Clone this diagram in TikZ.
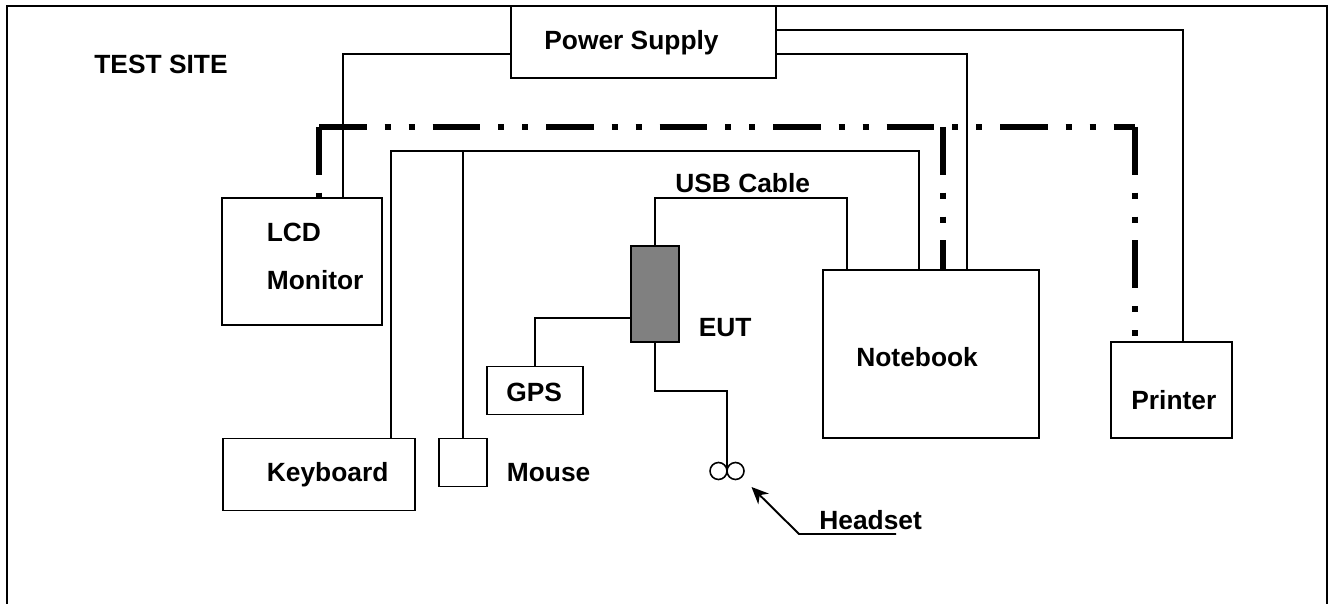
\documentclass[tikz,border=0pt]{standalone}
\usepackage{fontspec}
\setmainfont{Liberation Sans}
\usetikzlibrary{arrows.meta}
\tikzset{
  box/.style 2 args={draw, line width=1.1pt, outer sep=0pt, minimum width=#1*0.02cm, minimum height=#2*0.02cm},
  lbl/.style={anchor=base west, inner sep=0pt, font=\fontsize{15}{18}\selectfont\bfseries},
  wire/.style={line width=1.1pt, line join=miter},
  bus/.style={line width=3.7pt, dash pattern=on 27.2pt off 10.2pt on 3.4pt off 10.2pt on 3.4pt off 10.2pt}
}

\begin{document}
\begin{tikzpicture}[x=0.02cm, y=-0.02cm]
  \useasboundingbox (0, 0) rectangle (1333, 604);
  % site frame, open at the bottom
  \coordinate (F1) at (7, 604);
  \coordinate (F2) at (7, 6);
  \coordinate (F3) at (1327, 6);
  \coordinate (F4) at (1327, 604);
  \draw[wire] (F1) -- (F2) -- (F3) -- (F4);
  \coordinate (F5) at (415, 6);
  \coordinate (F6) at (441, 6);
  \draw[line width=1.5pt] (F5) -- (F6);

  % boxes
  \node[box={265}{72}, fill=white] (PS) at (643.5, 42) {};
  \node[box={160}{127}] (LCD) at (302, 261.5) {};
  \node[box={216}{168}] (NB) at (931, 354) {};
  \node[box={121}{96}] (PR) at (1171.5, 390) {};
  \node[box={192}{72}] (KB) at (319, 474.5) {};
  \node[box={48}{48}] (MS) at (463, 462.5) {};
  \node[box={96}{48}] (GPS) at (535, 390.5) {};
  \node[box={48}{96}, line width=1.7pt, fill={rgb,255:red,128;green,128;blue,128}] (EUT) at (655, 294) {};
  \node[draw, circle, line width=0.9pt, minimum size=0.34cm, inner sep=0pt, outer sep=0pt] (H1) at (718.5, 471) {};
  \node[draw, circle, line width=0.9pt, minimum size=0.34cm, inner sep=0pt, outer sep=0pt] (H2) at (735.5, 471) {};

  % texts
  \node[lbl] (tSite) at (94, 73.5) {TEST SITE};
  \node[lbl] (tPS) at (544, 50) {Power Supply};
  \node[lbl] (tLCD) at (266.5, 241.5) {LCD};
  \node[lbl] (tMon) at (266.5, 290) {Monitor};
  \node[lbl] (tUSB) at (675, 193) {USB Cable};
  \node[lbl] (tEUT) at (698.5, 336.5) {EUT};
  \node[lbl] (tNB) at (856, 366.5) {Notebook};
  \node[lbl] (tGPS) at (506, 401.5) {GPS};
  \node[lbl] (tPR) at (1131, 410) {Printer};
  \node[lbl] (tKB) at (266.5, 481.5) {Keyboard};
  \node[lbl] (tMS) at (506.5, 481.5) {Mouse};
  \node[lbl] (tHS) at (819, 530) {Headset};

  % power lines
  \coordinate (P1) at (511, 54);
  \coordinate (P2) at (776, 54);
  \coordinate (P3) at (776, 30);
  \coordinate (A1) at (343, 54);
  \coordinate (A2) at (967, 54);
  \coordinate (A3) at (1183, 30);
  \draw[wire] (P1) -- (A1) -- (A1 |- LCD.north);
  \draw[wire] (P2) -- (A2) -- (A2 |- NB.north);
  \draw[wire] (P3) -- (A3) -- (A3 |- PR.north);

  % keyboard and mouse
  \coordinate (K1) at (391, 151);
  \coordinate (K2) at (919, 151);
  \draw[wire] (K1 |- KB.north) -- (K1) -- (K2) -- (K2 |- NB.north);
  \coordinate (M1) at (463, 151);
  \draw[wire] (M1) -- (MS.north);

  % EUT cables
  \coordinate (U1) at (655, 198);
  \coordinate (U2) at (847, 198);
  \draw[wire] (EUT.north) -- (U1) -- (U2) -- (U2 |- NB.north);
  \coordinate (G1) at (535, 318);
  \draw[wire] (EUT.west |- G1) -- (G1) -- (GPS.north);
  \coordinate (H3) at (655, 391);
  \coordinate (H4) at (727, 391);
  \draw[wire] (EUT.south) -- (H3) -- (H4) -- (H1.east);

  % headset pointer
  \coordinate (S1) at (896, 534);
  \coordinate (S2) at (799, 534);
  \coordinate (S3) at (751.5, 487);
  \draw[wire, -{Stealth[length=0.34cm, width=0.3cm]}] (S1) -- (S2) -- (S3);

  % signal bus
  \coordinate (B1) at (319, 127);
  \coordinate (B2) at (943, 127);
  \coordinate (B3) at (1135, 127);
  \draw[bus] (B1) -- (B3);
  \draw[bus] (B1) -- (B1 |- LCD.north);
  \draw[bus] (B2) -- (B2 |- NB.north);
  \draw[bus] (B3) -- (B3 |- PR.north);
\end{tikzpicture}
\end{document}
